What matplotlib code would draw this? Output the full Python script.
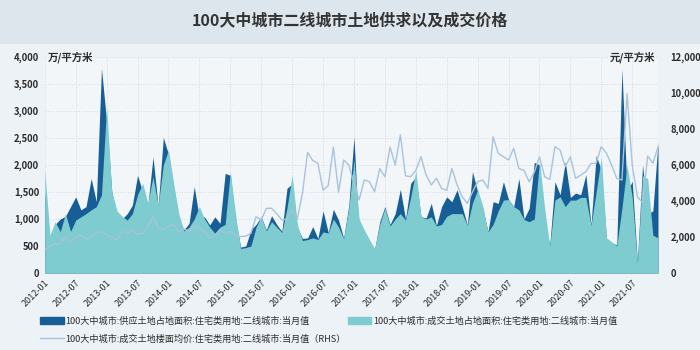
import numpy as np
import matplotlib
matplotlib.use("Agg")
import matplotlib.pyplot as plt
from matplotlib.patches import Rectangle, Patch
from matplotlib.lines import Line2D
from matplotlib.ticker import FuncFormatter

plt.rcParams['font.family'] = ['Noto Sans CJK SC', 'DejaVu Sans']

# monthly data, 2012-01 .. 2021-12
months = [f"{y}-{m:02d}" for y in range(2012, 2022) for m in range(1, 13)]

# supply, land area (10k m2)
supply = [1500, 600, 900, 1000, 1050, 1230, 1410, 1170, 1230, 1750,
          1320, 3790, 2800, 1500, 1100, 1000, 1100, 1260, 1810, 1500,
          1250, 2150, 1230, 2510, 2200, 1600, 1000, 800, 920, 1600,
          1010, 1040, 890, 1040, 920, 1845, 1810, 1000, 480, 500,
          800, 900, 1040, 800, 1060, 900, 770, 1570, 1650, 850,
          640, 650, 860, 640, 1150, 750, 1180, 980, 650, 1250,
          2520, 650, 700, 560, 430, 950, 1230, 900, 1100, 1550,
          1000, 1660, 1780, 1040, 1020, 1290, 880, 1230, 1410, 1320,
          1540, 1230, 890, 1880, 1500, 1200, 765, 1320, 1290, 1690,
          1360, 1230, 1750, 1000, 1200, 2050, 2000, 900, 520, 1690,
          1450, 2060, 1400, 1480, 1450, 1820, 890, 2180, 1900, 620,
          560, 520, 3780, 1500, 1700, 200, 2000, 1100, 1150, 2420]

# transactions, land area (10k m2)
deals = [1900, 700, 950, 765, 1100, 770, 980, 1040, 1100, 1170,
         1230, 1450, 3080, 1500, 1150, 1050, 980, 1100, 1450, 1660,
         1300, 1780, 1250, 2000, 2280, 1660, 1100, 780, 850, 1000,
         1230, 1000, 850, 735, 850, 900, 1875, 1100, 455, 470,
         500, 850, 1040, 780, 950, 850, 750, 1200, 1820, 900,
         600, 620, 650, 620, 760, 740, 1000, 850, 640, 1200,
         2100, 1000, 800, 620, 450, 900, 1200, 870, 1000, 1100,
         980, 1400, 1900, 1040, 1000, 1040, 870, 900, 1050, 1100,
         1100, 1100, 880, 1300, 1540, 1230, 760, 900, 1150, 1350,
         1360, 1230, 1170, 990, 950, 1000, 2080, 1200, 500, 1350,
         1410, 1230, 1350, 1350, 1400, 1400, 880, 1500, 2150, 650,
         580, 500, 1200, 2000, 1400, 180, 1800, 1750, 700, 650]

# average floor price (yuan/m2), RHS
price = [1300, 1500, 1600, 1650, 2000, 1700, 2000, 2100, 1900, 2000,
         2250, 2300, 2100, 2000, 1850, 2300, 2200, 2400, 2150, 2200,
         2600, 3150, 2500, 2400, 2600, 2700, 2300, 2450, 2300, 2600,
         2500, 2300, 1950, 2100, 2400, 2200, 2300, 2100, 2020, 2050,
         2200, 3130, 2950, 3590, 3600, 3300, 2950, 3000, 3550, 3000,
         4430, 6700, 6250, 6100, 4610, 4850, 7000, 4500, 6280, 6000,
         5000, 4060, 5170, 5070, 4520, 5800, 5350, 7000, 6000, 7670,
         5400, 5350, 5700, 6460, 5450, 4890, 5260, 4700, 4600, 5810,
         4900, 4240, 3870, 4500, 5070, 5170, 4700, 7570, 6650, 6460,
         6280, 6930, 5810, 5700, 5070, 5600, 6460, 5350, 5200, 7020,
         6830, 5910, 6460, 5260, 5440, 5630, 6090, 6100, 7020, 6650,
         6000, 5260, 5170, 9980, 6000, 4240, 3900, 6500, 6100, 7000]

labels = ["100大中城市:供应土地占地面积:住宅类用地:二线城市:当月值",
          "100大中城市:成交土地占地面积:住宅类用地:二线城市:当月值",
          "100大中城市:成交土地楼面均价:住宅类用地:二线城市:当月值（RHS）"]

c_supply = '#175e96'
c_deals = '#7ecbd0'
c_price = '#a8c3dc'
txt = '#2b2b2b'

fig = plt.figure(figsize=(7, 3.5), dpi=100, facecolor='#edf2f6')
fig.patches.append(Rectangle((0, 0.875), 1, 0.125, transform=fig.transFigure,
                             facecolor='#dde6ec', edgecolor='none', zorder=0))
fig.text(0.5, 0.943, "100大中城市二线城市土地供求以及成交价格", ha='center', va='center',
         fontsize=11.5, fontweight='bold', color='#333333')

ax = fig.add_axes([0.064, 0.22, 0.876, 0.617])
ax.set_facecolor('#f3f6f9')
x = np.arange(len(months))
ax.fill_between(x, supply, color=c_supply, lw=0, zorder=2)
ax.fill_between(x, deals, color=c_deals, lw=0, zorder=3)
ax.set_xlim(0, len(months) - 1)
ax.set_ylim(0, 4000)
ax.set_yticks(np.arange(0, 4001, 500))
ax.yaxis.set_major_formatter(FuncFormatter(lambda v, p: f"{int(v):,}"))
ax.set_xticks(x[::6])
ax.set_xticklabels(months[::6], rotation=45, ha='right', rotation_mode='anchor',
                   fontsize=6.5, color=txt)
ax.grid(True, color='#d5dbe2', linestyle=':', linewidth=0.7, zorder=1)
ax.set_axisbelow(True)
ax.tick_params(axis='both', length=0, pad=4)
ax.tick_params(axis='y', labelsize=6.8, labelcolor=txt)
for lab in ax.get_yticklabels():
    lab.set_fontweight('bold')
for s in ax.spines.values():
    s.set_visible(False)

ax2 = ax.twinx()
ax2.plot(x, price, color=c_price, lw=1.0, zorder=4)
ax2.set_ylim(0, 12000)
ax2.set_yticks(np.arange(0, 12001, 2000))
ax2.yaxis.set_major_formatter(FuncFormatter(lambda v, p: f"{int(v):,}"))
ax2.tick_params(axis='y', length=0, pad=9, labelsize=6.8, labelcolor=txt)
for lab in ax2.get_yticklabels():
    lab.set_fontweight('bold')
for s in ax2.spines.values():
    s.set_visible(False)

ax.text(0.005, 1.0, "万/平方米", transform=ax.transAxes, ha='left', va='center',
        fontsize=7.5, fontweight='bold', color=txt)
ax.text(0.995, 1.0, "元/平方米", transform=ax.transAxes, ha='right', va='center',
        fontsize=7.5, fontweight='bold', color=txt)

handles = [Patch(color=c_supply), Line2D([], [], color=c_price, lw=1.0), Patch(color=c_deals)]
fig.legend(handles, [labels[0], labels[2], labels[1]], ncol=2, loc='lower left',
           bbox_to_anchor=(0.045, -0.005), frameon=False,
           prop={'size': 6.6, 'weight': 'medium'},
           handlelength=2.6, handleheight=0.75, columnspacing=0.2, labelspacing=0.95,
           handletextpad=0.2, labelcolor=txt)

fig.savefig("out.png", dpi=100, facecolor=fig.get_facecolor())
